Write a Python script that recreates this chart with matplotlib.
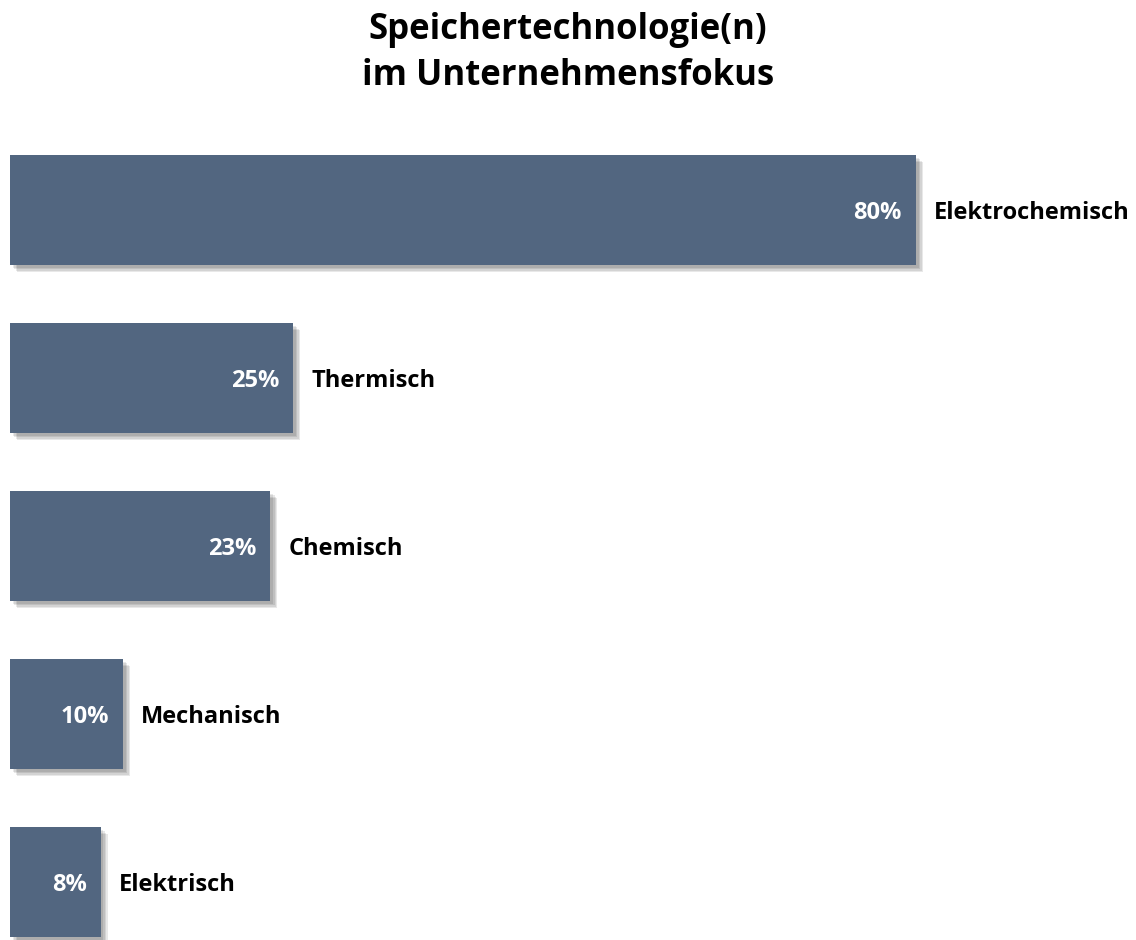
import matplotlib.pyplot as plt
import matplotlib.patheffects as pe

categories = ['Elektrochemisch', 'Thermisch', 'Chemisch', 'Mechanisch', 'Elektrisch']
values = [80, 25, 23, 10, 8]

plt.rcParams['font.family'] = ['Open Sans', 'DejaVu Sans']

fig = plt.figure(figsize=(11.36, 9.4), dpi=100)
ax = fig.add_axes([10 / 1136, 0, 1126 / 1136, 814 / 940])

bar_color = '#526680'
ypos = list(range(len(categories)))
# soft shadow, built from a few faint offset copies
shadow = [pe.SimplePatchShadow(offset=(o, -o), shadow_rgbFace='black', alpha=0.09)
          for o in (5, 4, 3, 2)]
bars = ax.barh(ypos, values, height=0.655, color=bar_color,
               path_effects=shadow + [pe.Normal()])

for y, v, name in zip(ypos, values, categories):
    ax.annotate(f'{v}%', (v, y), xytext=(-14, -3), textcoords='offset pixels',
                ha='right', va='center', color='white', fontsize=17, fontweight='bold')
    ax.annotate(name, (v, y), xytext=(18, -3), textcoords='offset pixels',
                ha='left', va='center', color='black', fontsize=17, fontweight='bold')

ax.set_xlim(0, 80 * 1126 / 906)
ax.set_ylim((940 - 210) / 168, -0.5)
ax.axis('off')

fig.text(0.5, 1 - 53 / 940, 'Speichertechnologie(n)\nim Unternehmensfokus',
         ha='center', va='center', fontsize=25, fontweight='bold', linespacing=1.4)

plt.savefig('out.png', dpi=100)
